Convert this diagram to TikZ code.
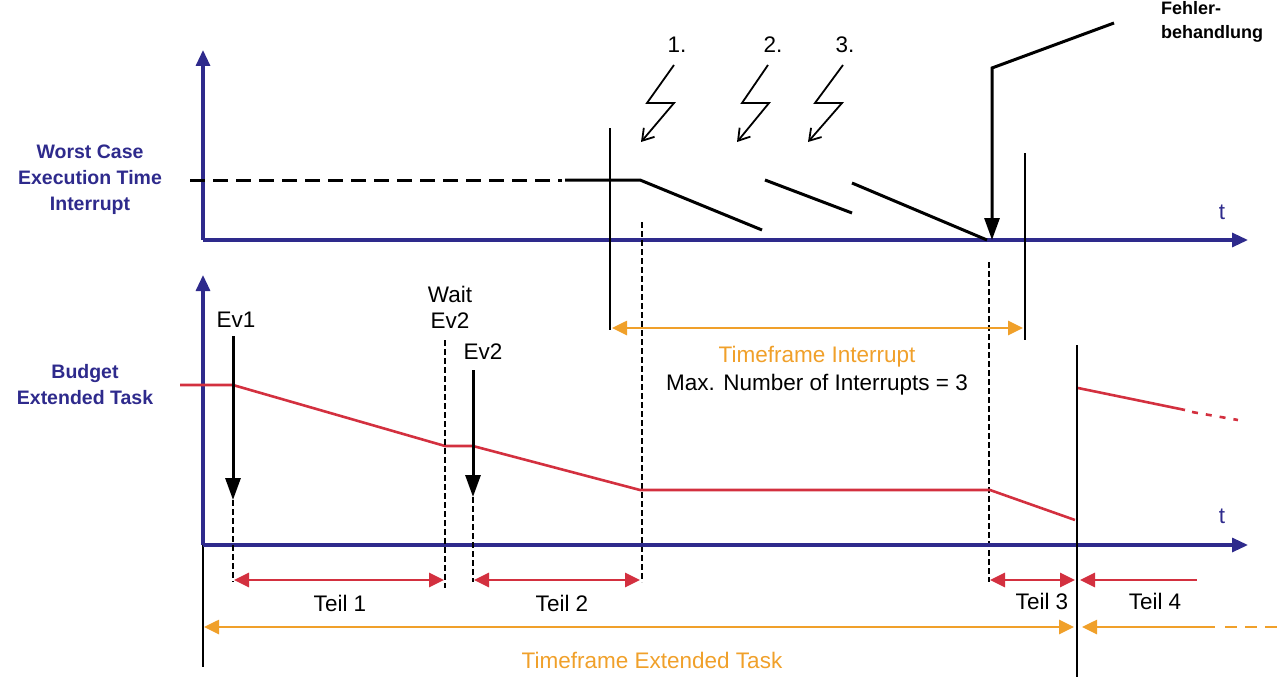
\documentclass[tikz,border=0pt]{standalone}
\usepackage{fontspec}
\setmainfont{Liberation Sans}
\usetikzlibrary{arrows.meta}
\definecolor{navy}{HTML}{2E2A8C}
\definecolor{org}{HTML}{F0A02A}
\definecolor{rd}{HTML}{D3303F}
\begin{document}
\begin{tikzpicture}[x=1pt,y=-1pt,
  axis/.style={navy,line width=3.2pt,-{Triangle[length=16pt,width=14pt]}},
  thin/.style={black,line width=1.3pt},
  dsh/.style={black,line width=1.2pt,dash pattern=on 6pt off 3pt},
  bl/.style={black,line width=3pt},
  rl/.style={rd,line width=2.6pt},
  rarr/.style={rd,line width=2.8pt,{Triangle[length=15pt,width=14pt]}-{Triangle[length=15pt,width=14pt]}},
  oarr/.style={org,line width=2.6pt,{Triangle[length=15pt,width=14pt]}-{Triangle[length=15pt,width=14pt]}},
  bolt/.style={black,line width=1.8pt,-{Straight Barb[length=11pt,width=14pt]}},
  lbl/.style={font=\fontsize{22.5}{26}\selectfont,align=center},
  nlbl/.style={lbl,navy,font=\bfseries\fontsize{19.5}{26}\selectfont}]
\useasboundingbox (0,0) rectangle (1280,677);
% top axes
\coordinate (ty0) at (203,240); \coordinate (ty1) at (203,50); \coordinate (tx1) at (1248,240);
\draw[axis] (ty0) -- (ty1);
\draw[axis] (ty0) -- (tx1);
\node[lbl,navy] (t1) at (1222,212) {t};
\node[nlbl] (wc) at (90,180) {Worst Case\\Execution Time\\Interrupt};
% WCET curve
\draw[bl,dash pattern=on 15pt off 8pt] (190,180) -- (562,180);
\draw[bl] (565,180) -- (640,180) -- (762,230);
\draw[bl] (765,180) -- (852,213);
\draw[bl] (852,183) -- (987,240);
% lightning
\draw[bolt] (674,65) -- (647,103) -- (674,103) -- (641,142);
\draw[bolt] (768,65) -- (742,103) -- (769,103) -- (737,142);
\draw[bolt] (843,65) -- (815,103) -- (842,103) -- (808,142);
\node[lbl] (n1) at (677,45) {1.};
\node[lbl] (n2) at (773,45) {2.};
\node[lbl] (n3) at (845,45) {3.};
% Fehlerbehandlung
\node[lbl,font=\bfseries\fontsize{18}{24}\selectfont,align=left] (fb) at (1212,22) {Fehler-\\behandlung};
\draw[bl,-{Triangle[length=22pt,width=15pt]}] (1114,23) -- (992,68) -- (992,240);
% verticals
\draw[thin] (610,128) -- (610,330);
\draw[thin] (1025,153) -- (1025,340);
\draw[dsh] (642,222) -- (642,582);
\draw[dsh] (989,262) -- (989,582);
\draw[oarr] (612,328) -- (1023,328);
\node[lbl,org] (tfi) at (817,357) {Timeframe Interrupt};
\node[lbl] (max) at (817,385) {Max. Number of Interrupts = 3};
% bottom axes
\coordinate (by0) at (203,545); \coordinate (by1) at (203,275); \coordinate (bx1) at (1248,545);
\draw[thin] (203,545) -- (203,667);
\draw[axis] (by0) -- (by1);
\draw[axis] (by0) -- (bx1);
\node[lbl,navy] (t2) at (1222,516) {t};
\node[nlbl] (bud) at (85,385) {Budget\\Extended Task};
% budget
\draw[rl] (180,385) -- (233,385) -- (445,446) -- (473,446) -- (640,490) -- (990,490) -- (1075,520);
\draw[rl] (1078,388) -- (1185,410);
\draw[rl,dash pattern=on 6pt off 8pt] (1192,412) -- (1238,420);
% events
\node[lbl] (ev1) at (236,320) {Ev1};
\draw[bl,-{Triangle[length=22pt,width=15pt]}] (233,336) -- (233,500);
\draw[dsh] (233,500) -- (233,582);
\node[lbl] (wait) at (450,307) {Wait\\Ev2};
\draw[dsh] (445,340) -- (445,588);
\node[lbl] (ev2) at (483,352) {Ev2};
\draw[bl,-{Triangle[length=22pt,width=15pt]}] (473,370) -- (473,497);
\draw[dsh] (473,497) -- (473,582);
% parts
\draw[rarr] (234,580) -- (444,580);
\node[lbl] (p1) at (340,603) {Teil 1};
\draw[rarr] (474,580) -- (640,580);
\node[lbl] (p2) at (562,603) {Teil 2};
\draw[rarr] (990,580) -- (1075,580);
\node[lbl] (p3) at (1042,601) {Teil 3};
\draw[rd,line width=2.8pt,{Triangle[length=15pt,width=14pt]}-] (1080,580) -- (1197,580);
\node[lbl] (p4) at (1155,601) {Teil 4};
% extended task
\draw[oarr] (204,627) -- (1074,627);
\node[lbl,org] (tfe) at (652,660) {Timeframe Extended Task};
\draw[org,line width=2.6pt,{Triangle[length=15pt,width=14pt]}-] (1082,627) -- (1215,627);
\draw[org,line width=2.6pt,dash pattern=on 12pt off 8pt] (1225,627) -- (1280,627);
\draw[thin,line width=1.6pt] (1077,345) -- (1077,677);
\end{tikzpicture}
\end{document}
